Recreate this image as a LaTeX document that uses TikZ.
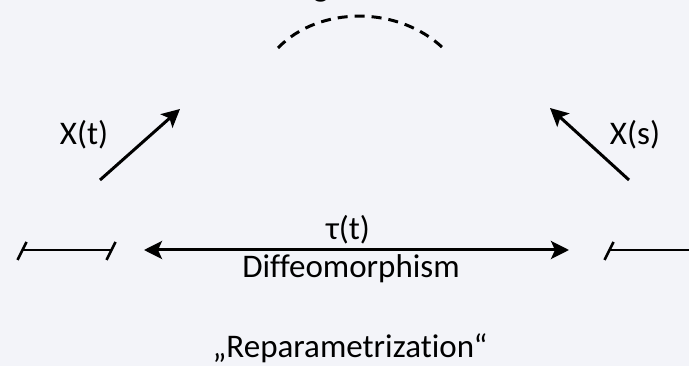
\documentclass[tikz,border=0pt]{standalone}
\usepackage{fontspec}
\setmainfont[Ligatures={NoCommon}]{Carlito}
\usetikzlibrary{arrows.meta}
\definecolor{bgc}{RGB}{243,244,249}
\tikzset{
  lbl/.style={font=\fontsize{33}{40}\selectfont, inner sep=0pt, anchor=base, text=black},
  conn/.style={line width=3pt, draw=black},
  arr/.style={conn, -{Stealth[length=18pt,width=18pt,inset=4pt]}},
  darr/.style={conn, {Stealth[length=18pt,width=18pt,inset=4pt]}-{Stealth[length=18pt,width=18pt,inset=4pt]}},
  seg/.style={line width=2.6pt, draw=black},
  arcdash/.style={line width=3pt, draw=black, dash pattern=on 10pt off 7pt}
}
\begin{document}
\begin{tikzpicture}[x=1pt,y=-1pt]
\fill[bgc] (0,0) rectangle (689,366);
\useasboundingbox (0,0) rectangle (689,366);
% cut-off label at the top
\node[lbl] (topg) at (321,-3) {g};
% dashed arc
\coordinate (arcA) at (278,48);
\coordinate (arcB) at (446,51);
\draw[arcdash] (arcA) .. controls (318,6) and (400,4) .. (arcB);
% labels
\node[lbl] (xt) at (84,145) {X(t)};
\node[lbl] (xs) at (635,145) {X(s)};
\node[lbl] (tau) at (348,240) {τ(t)};
\node[lbl] (diff) at (351,278) {Diffeomorphism};
\node[lbl] (rep) at (350,358) {„Reparametrization“};
% diagonal arrows
\coordinate (la0) at (100,180);
\coordinate (la1) at (180,109);
\coordinate (ra0) at (629,180);
\coordinate (ra1) at (550,108);
\draw[arr] (la0) -- (la1);
\draw[arr] (ra0) -- (ra1);
% double arrow
\coordinate (da0) at (144,250);
\coordinate (da1) at (569,250);
\draw[darr] (da0) -- (da1);
% left interval
\coordinate (l0) at (22,250);
\coordinate (l1) at (111,250);
\draw[seg] (l0) -- (l1);
\draw[seg] ([shift={(-4.5,10)}]l0) -- ([shift={(4.5,-8)}]l0);
\draw[seg] ([shift={(-4.5,10)}]l1) -- ([shift={(4.5,-8)}]l1);
% right interval
\coordinate (r0) at (609,250);
\coordinate (r1) at (690,250);
\draw[seg] (r0) -- (r1);
\draw[seg] ([shift={(-4.5,10)}]r0) -- ([shift={(4.5,-8)}]r0);
\end{tikzpicture}
\end{document}
